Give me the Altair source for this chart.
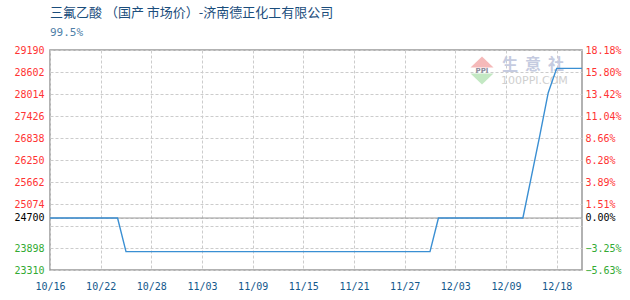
import altair as alt
import pandas as pd

# Trading dates: daily through 12/09, then weekdays only in December
early_days = pd.date_range("2023-10-16", "2023-12-09", freq="D").strftime("%m/%d").tolist()
december_days = ["12/11", "12/12", "12/13", "12/14", "12/15", "12/18", "12/19", "12/20", "12/21"]
dates = early_days + december_days

# Price (yuan/ton) as runs of (price, number of days)
price_runs = [(24700, 9), (23800, 37), (24700, 11), (25800, 1), (26900, 1), (28050, 1), (28700, 4)]
prices = [p for p, n in price_runs for _ in range(n)]

base_price = 24700
tick_dates = ["10/16", "10/22", "10/28", "11/03", "11/09", "11/15",
              "11/21", "11/27", "12/03", "12/09", "12/18"]
grid_prices = [29190, 28602, 28014, 27426, 26838, 26250, 25662, 25074, 24486, 23898, 23310]
y_values = grid_prices + [base_price]
y_domain = [23310, 29190]

df = pd.DataFrame({"idx": list(range(len(dates))), "date": dates, "price": prices})

RED, GREEN, BLACK = "#ff3333", "#33aa33", "#000000"
label_color = {"expr": f"datum.value > {base_price} ? '{RED}' : datum.value == {base_price} ? '{BLACK}' : '{GREEN}'"}
mono = "DejaVu Sans Mono"

x_enc = alt.X(
    "date:O",
    scale=alt.Scale(type="point", padding=0),
    axis=alt.Axis(values=tick_dates, labelAngle=0, grid=True, gridDash=[3, 2], gridColor="#cccccc",
                  ticks=False, domain=False, labelPadding=11, labelColor="#14588c",
                  labelFont=mono, labelFontSize=10, title=None),
)

line = alt.Chart(df).mark_line(color="#3a8fd3", strokeWidth=1.4).encode(
    x=x_enc,
    y=alt.Y(
        "price:Q",
        scale=alt.Scale(domain=y_domain, nice=False, zero=False),
        axis=alt.Axis(orient="left", values=y_values, format="d",
                      labelExpr=f"datum.value == 24486 ? '' : format(datum.value, 'd')",
                      labelColor=label_color, labelFont=mono, labelFontSize=10,
                      labelPadding=6, ticks=False, domain=False,
                      grid=True, gridDash=[3, 2], gridColor="#cccccc", title=None),
    ),
    order=alt.Order("idx:Q"),
)

baseline = alt.Chart(pd.DataFrame({"price": [base_price]})).mark_rule(color="#999999", strokeWidth=1.2).encode(
    y=alt.Y(
        "price:Q",
        scale=alt.Scale(domain=y_domain, nice=False, zero=False),
        axis=alt.Axis(orient="right", values=y_values,
                      labelExpr=f"datum.value == 24486 ? '' : format((datum.value / {base_price} - 1) * 100, '.2f') + '%'",
                      labelColor=label_color, labelFont=mono, labelFontSize=10,
                      labelPadding=3, ticks=False, domain=False, grid=False, title=None),
    ),
)

# Watermark logo
wm_up = alt.Chart(pd.DataFrame({"k": [1]})).mark_point(
    shape="M-1,0.48L1,0.48L0,-0.48Z", filled=True, color="#f5b9b9", opacity=1, size=529
).encode(x=alt.value(432), y=alt.value(12))
wm_down = alt.Chart(pd.DataFrame({"k": [1]})).mark_point(
    shape="M-1,-0.48L1,-0.48L0,0.48Z", filled=True, color="#c3e8c3", opacity=1, size=529
).encode(x=alt.value(432), y=alt.value(29))
wm_ppi = alt.Chart(pd.DataFrame({"t": ["PPI"]})).mark_text(
    font="DejaVu Sans", fontSize=7, fontWeight="bold", color="#8a8a9a"
).encode(x=alt.value(432), y=alt.value(21), text="t:N")
wm_name = alt.Chart(pd.DataFrame({"t": ["生", "意", "社"], "pos": [460, 483, 506]})).mark_text(
    font="Noto Sans CJK SC", fontSize=16, fontWeight="bold", color="#c5cbe0"
).encode(x=alt.X("pos:Q", scale=None), y=alt.value(15), text="t:N")
wm_site = alt.Chart(pd.DataFrame({"t": ["100PPI.COM"]})).mark_text(
    font="DejaVu Sans", fontSize=11, color="#cfcfcf", align="left"
).encode(x=alt.value(451), y=alt.value(31), text="t:N")

chart = alt.layer(
    baseline, wm_up, wm_down, wm_ppi, wm_name, wm_site, line
).resolve_scale(y="independent").properties(
    width=532,
    height=220,
    padding={"left": 50, "top": 50, "right": 48, "bottom": 30},
    autosize=alt.AutoSizeParams(type="none"),
    background="white",
    title=alt.TitleParams(
        text="三氟乙酸 （国产 市场价）-济南德正化工有限公司",
        subtitle="99.5%",
        anchor="start",
        frame="group",
        font="Noto Sans CJK SC",
        fontSize=13,
        fontWeight="normal",
        color="#1a4d7c",
        subtitleFont="DejaVu Sans Mono",
        subtitleFontSize=11,
        subtitleColor="#4f7fa8",
        subtitlePadding=7,
        offset=7,
    ),
).configure_view(stroke="#999999", strokeWidth=1.5)

chart.save("out.html", embed_options={"renderer": "svg", "actions": False})
